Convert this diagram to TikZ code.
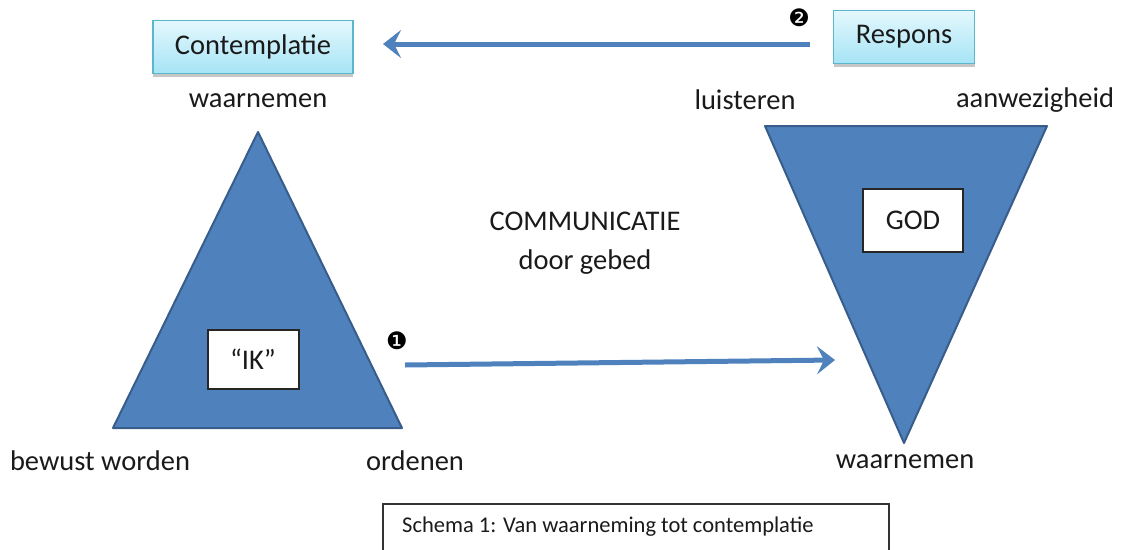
\documentclass[tikz,border=0pt]{standalone}
\usepackage{fontspec}
\setmainfont{Carlito}
\newfontfamily\dingfont{DejaVu Sans}
\usetikzlibrary{arrows.meta,shadows}
\definecolor{triblue}{HTML}{4F81BD}
\definecolor{triedge}{HTML}{385D8A}
\definecolor{boxtop}{HTML}{E4F8FD}
\definecolor{boxbot}{HTML}{A6E4F6}
\definecolor{boxedge}{HTML}{5BB8CC}
\definecolor{txt}{HTML}{1A1A1A}
\tikzset{
  lbl/.style={font=\fontsize{28.5}{30}\selectfont, text=txt, inner sep=0pt},
  cyanbox/.style={draw=boxedge, line width=1.5pt, top color=boxtop, bottom color=boxbot,
     drop shadow={shadow xshift=0pt, shadow yshift=-3pt, opacity=0.22, fill=black},
     font=\fontsize{28.5}{30}\selectfont, text=txt, inner sep=0pt},
  whitebox/.style={draw=black!85, line width=2pt, fill=white, inner sep=0pt,
     font=\fontsize{28.5}{30}\selectfont, text=txt},
  tri/.style={fill=triblue, draw=triedge, line width=2pt, line join=round},
  bigarrow/.style={draw=triblue, line width=5pt,
     -{Stealth[length=18pt,width=28pt,inset=7pt]}},
  num/.style={font=\dingfont\fontsize{24}{26}\selectfont, inner sep=0pt}
}
\begin{document}
\begin{tikzpicture}[x=1pt,y=-1pt]
\useasboundingbox (0,0) rectangle (1121,549);
% triangles
\draw[tri] (258,132) -- (402,428) -- (113,428) -- cycle;
\draw[tri] (765,126) -- (1047,126) -- (904,443) -- cycle;
% boxes
\node[cyanbox, minimum width=200pt, minimum height=53pt] (contemplatie) at (253,47) {Contemplatie};
\node[cyanbox, minimum width=141pt, minimum height=53pt] (respons) at (904,37) {Respons};
\node[whitebox, minimum width=91pt, minimum height=59pt] (ik) at (253,359) {“IK”};
\node[whitebox, minimum width=100pt, minimum height=63pt] (god) at (913,220) {GOD};
% labels
\node[lbl] (waarnemen1) at (258,101) {waarnemen};
\node[lbl] (luisteren) at (745,100) {luisteren};
\node[lbl] (aanwezigheid) at (1035,100) {aanwezigheid};
\node[lbl] (communicatie) at (585,221) {COMMUNICATIE};
\node[lbl] (gebed) at (585,262) {door gebed};
\node[lbl] (bewust) at (100,461) {bewust worden};
\node[lbl] (ordenen) at (415,461) {ordenen};
\node[lbl] (waarnemen2) at (905,462) {waarnemen};
% numbers
\node[num] (n1) at (397,341) {❶};
\node[num] (n2) at (799,18) {❷};
% arrows
\coordinate (a1s) at (405,365);
\coordinate (a1e) at (835,360);
\coordinate (a2s) at (810,44);
\coordinate (a2e) at (383,44);
\draw[bigarrow] (a1s) -- (a1e);
\draw[bigarrow] (a2s) -- (a2e);
% caption
\draw[black!80, line width=1.5pt] (383,552) -- (383,504) -- (889,504) -- (889,552);
\node[font=\fontsize{22.5}{24}\selectfont, text=txt, anchor=west, inner sep=0pt] (caption) at (402,527) {Schema 1: Van waarneming tot contemplatie};
\end{tikzpicture}
\end{document}
